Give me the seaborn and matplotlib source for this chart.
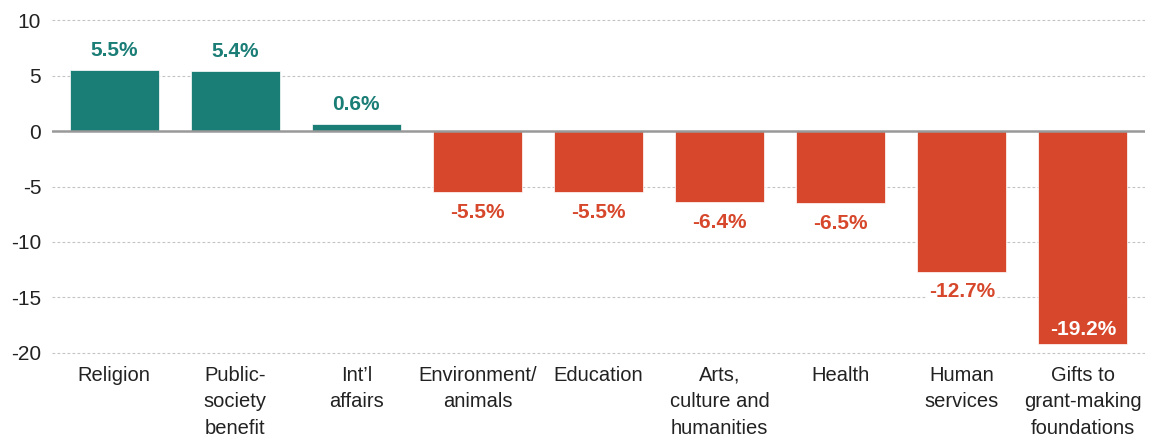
import matplotlib
matplotlib.use("Agg")
import matplotlib.pyplot as plt
import seaborn as sns
import pandas as pd

# data
categories = ["Religion", "Public-\nsociety\nbenefit", "Int\u2019l\naffairs", "Environment/\nanimals",
              "Education", "Arts,\nculture and\nhumanities", "Health", "Human\nservices",
              "Gifts to\ngrant-making\nfoundations"]
values = [5.5, 5.4, 0.6, -5.5, -5.5, -6.4, -6.5, -12.7, -19.2]
yticks = [10, 5, 0, -5, -10, -15, -20]

teal = "#1a7d76"
red = "#d6472b"

df = pd.DataFrame({"cat": categories, "val": values})
df["sign"] = ["pos" if v > 0 else "neg" for v in values]

sns.set_style("white")
plt.rcParams["font.family"] = ["Liberation Sans", "DejaVu Sans"]

fig = plt.figure(figsize=(11.61, 4.42), dpi=100)
# axes spans y = -20.3 .. 10.3
ax = fig.add_axes([0.045, 0.194, 0.941, 0.768])

sns.barplot(data=df, x="cat", y="val", hue="sign", palette={"pos": teal, "neg": red},
            width=0.735, dodge=False, legend=False, saturation=1, edgecolor="white",
            linewidth=0.5, ax=ax, zorder=3)

ax.set_ylim(-20.3, 10.3)
ax.set_xlim(-0.51, 8.51)
ax.set_yticks(yticks)
ax.set_yticklabels([str(t) for t in yticks])
ax.set_xlabel("")
ax.set_ylabel("")
for s in ax.spines.values():
    s.set_visible(False)
ax.grid(axis="y", linestyle=(0, (2.5, 2)), color="#c4c4c4", linewidth=0.8, zorder=0)
ax.axhline(0, color="#999999", linewidth=1.8, zorder=4)
ax.tick_params(axis="y", length=0, labelsize=15, pad=8, labelcolor="#222222")
ax.tick_params(axis="x", length=0, labelsize=14.5, pad=7, labelcolor="#222222")
for lbl in ax.get_xticklabels():
    lbl.set_verticalalignment("top")
    lbl.set_linespacing(1.5)

for i, v in enumerate(values):
    txt = f"{v:.1f}%"
    if v > 0:
        ax.text(i, v + 1.8, txt, ha="center", va="center", color=teal, fontsize=15, fontweight="bold")
    elif v < -15:
        ax.text(i, v + 1.3, txt, ha="center", va="center", color="white", fontsize=15, fontweight="bold")
    else:
        ax.text(i, v - 1.8, txt, ha="center", va="center", color=red, fontsize=15, fontweight="bold",
                bbox=dict(facecolor="white", edgecolor="none", pad=1), zorder=5)

fig.savefig("out.png", dpi=100)
